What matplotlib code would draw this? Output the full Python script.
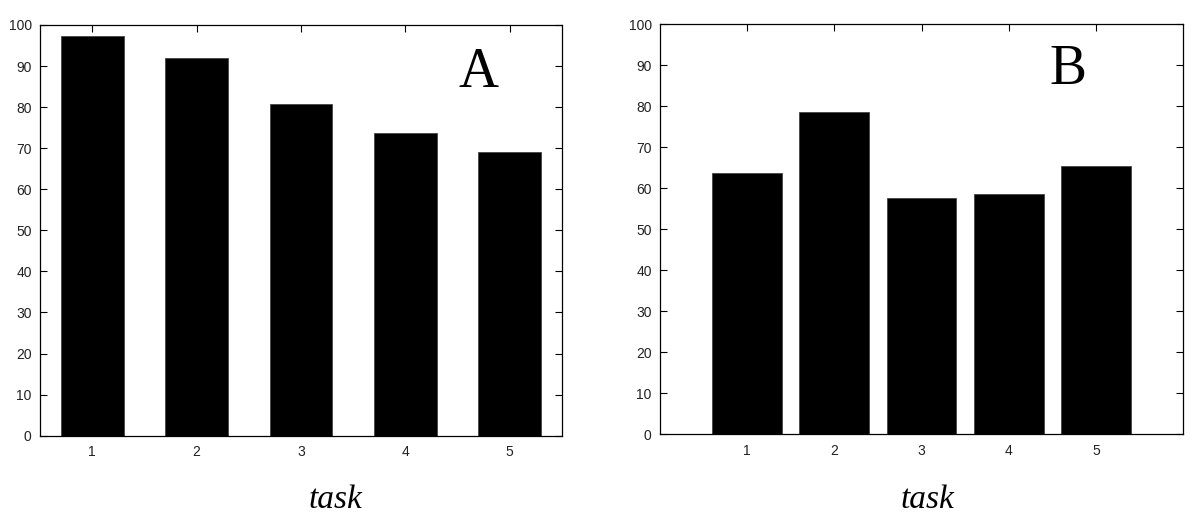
import matplotlib.pyplot as plt
import numpy as np

# values
tasks = [1, 2, 3, 4, 5]
score_a = [97.3, 91.9, 80.7, 73.7, 69.0]
score_b = [63.8, 78.7, 57.7, 58.5, 65.5]
yticks = list(range(0, 101, 10))

fig = plt.figure(figsize=(12, 5.23), dpi=100)
ax1 = fig.add_axes([40/1200, 1-435.7/523, 522/1200, 410.7/523])
ax2 = fig.add_axes([660/1200, 1-434/523, 523/1200, 409.7/523])

def style(ax):
    ax.set_ylim(0, 100)
    ax.set_yticks(yticks)
    ax.set_xticks(tasks)
    ax.tick_params(direction="in", length=5, width=0.8, top=True, right=True,
                   labelsize=10, labelcolor="#222222", pad=6)
    ax.tick_params(axis="x", pad=7)
    for s in ax.spines.values():
        s.set_linewidth(0.9)
    for lab in ax.get_xticklabels() + ax.get_yticklabels():
        lab.set_family("Liberation Sans")

ax1.bar(tasks, score_a, width=0.6, color="black", edgecolor="#444444", linewidth=0.6)
ax1.set_xlim(0.5, 5.5)
style(ax1)
ax1.text(4.7, 88.4, "A", family="Liberation Serif", fontsize=40, ha="center", va="center")

ax2.bar(tasks, score_b, width=0.8, color="black", edgecolor="#444444", linewidth=0.6)
ax2.set_xlim(0, 6)
style(ax2)
ax2.text(4.68, 88.8, "B", family="Liberation Serif", fontsize=40, ha="center", va="center")

fig.text(335/1200, 1-500/523, "task", family="Liberation Serif", style="italic",
         fontsize=24, ha="center", va="center")
fig.text(927/1200, 1-500/523, "task", family="Liberation Serif", style="italic",
         fontsize=24, ha="center", va="center")

fig.savefig("out.png", dpi=100)
